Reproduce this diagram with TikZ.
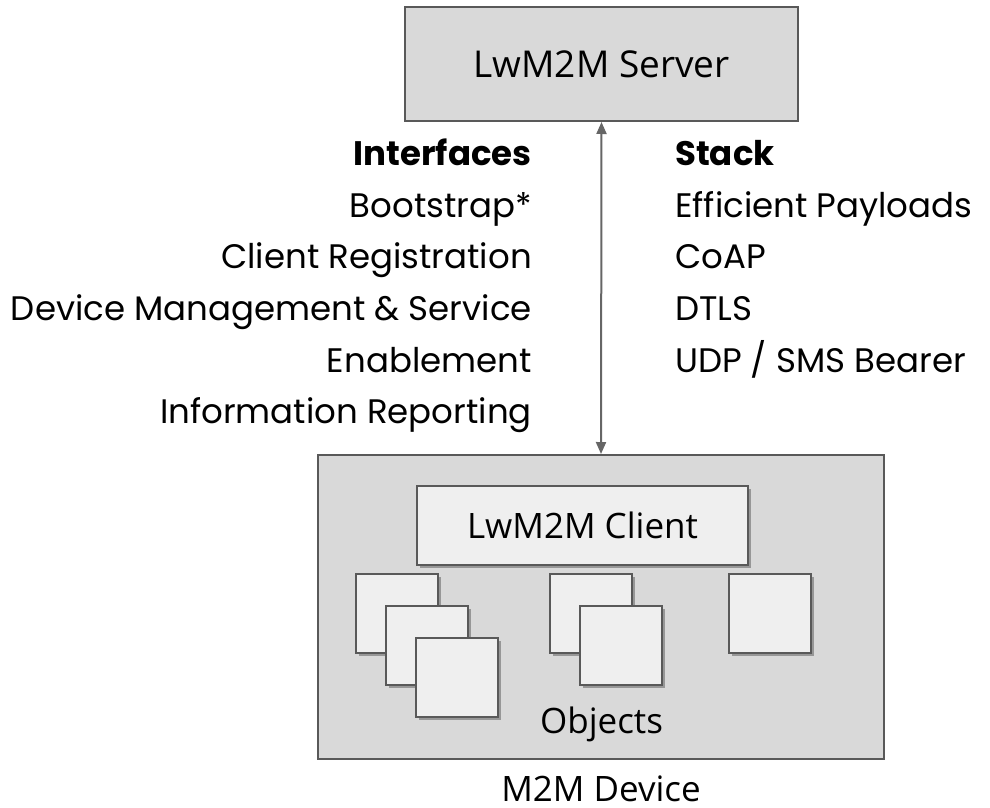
\documentclass[tikz,border=0pt]{standalone}
\usepackage{fontspec}
\setmainfont{Poppins}
\newfontfamily\boxfont{Open Sans}
\usetikzlibrary{shadows,arrows.meta}
\definecolor{boxgray}{HTML}{D9D9D9}
\definecolor{boxlight}{HTML}{EFEFEF}
\definecolor{edgegray}{HTML}{595959}
\definecolor{arrowgray}{HTML}{666666}
\tikzset{
    bigbox/.style={draw=edgegray, line width=2pt, fill=boxgray, inner sep=0pt},
    lightbox/.style={draw=edgegray, line width=2pt, fill=boxlight, inner sep=0pt,
        drop shadow={shadow xshift=3pt, shadow yshift=-3pt, opacity=0.3, fill=black}},
    objbox/.style={lightbox, minimum width=82pt, minimum height=79pt},
    txt/.style={inner sep=0pt, font=\fontsize{34}{40}\selectfont},
    boxtxt/.style={font=\boxfont\fontsize{35}{40}\selectfont}
}
\begin{document}
\begin{tikzpicture}[x=1pt, y=-1pt]
    \useasboundingbox (0,0) rectangle (990,808);
    % boxes
    \node [bigbox, minimum width=393pt, minimum height=114pt, boxtxt, font=\boxfont\fontsize{37}{40}\selectfont] (server) at (601.5,64) {LwM2M Server};
    \node [bigbox, minimum width=566pt, minimum height=304pt] (device) at (601,607) {};
    \node [lightbox, minimum width=331pt, minimum height=79pt, boxtxt] (client) at (582.5,525.5) {LwM2M Client};
    \node [objbox] (obja1) at (397,613.5) {};
    \node [objbox] (obja2) at (427,645.5) {};
    \node [objbox] (obja3) at (457,677.5) {};
    \node [objbox] (objb1) at (591,613.5) {};
    \node [objbox] (objb2) at (621,645.5) {};
    \node [objbox] (objc1) at (770,613.5) {};
    \node [boxtxt, anchor=base] (objects) at (601.5,733) {Objects};
    \node [boxtxt, anchor=base, inner sep=0pt] (devname) at (601,801) {M2M Device};
    \draw [arrowgray, line width=2pt, {Triangle[length=12pt,width=10pt]}-{Triangle[length=12pt,width=10pt]}] (server.south) -- (device.north);
    % interfaces
    \node [txt, anchor=base east] (ifhead) at (532,165) {\bfseries Interfaces};
    \node [txt, anchor=base east] (if1) at (532,217) {Bootstrap*};
    \node [txt, anchor=base east] (if2) at (532,268) {Client Registration};
    \node [txt, anchor=base east] (if3) at (532,320) {Device Management \& Service};
    \node [txt, anchor=base east] (if4) at (532,372) {Enablement};
    \node [txt, anchor=base east] (if5) at (532,423) {Information Reporting};
    % stack
    \node [txt, anchor=base west] (sthead) at (675,165) {\bfseries Stack};
    \node [txt, anchor=base west] (st1) at (675,217) {Efficient Payloads};
    \node [txt, anchor=base west] (st2) at (675,268) {CoAP};
    \node [txt, anchor=base west] (st3) at (675,320) {DTLS};
    \node [txt, anchor=base west] (st4) at (675,372) {UDP / SMS Bearer};
\end{tikzpicture}
\end{document}
